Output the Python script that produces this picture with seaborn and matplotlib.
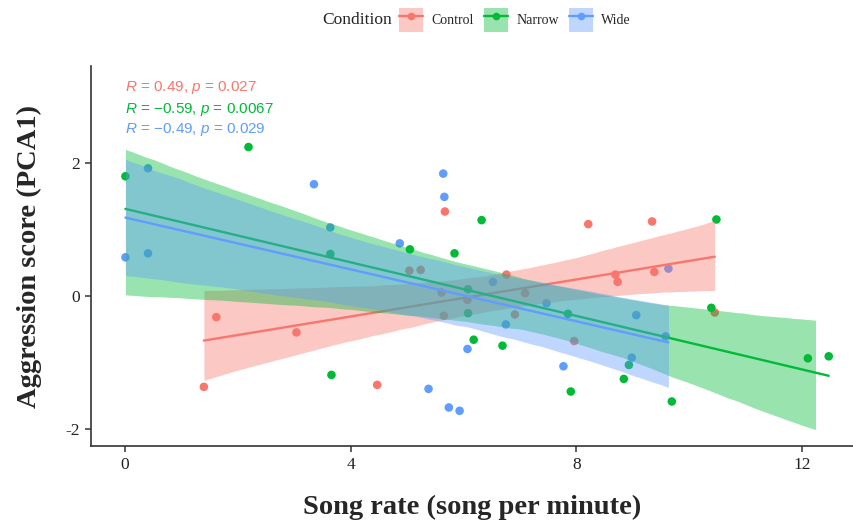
import numpy as np
import pandas as pd
import matplotlib
matplotlib.use("Agg")
import matplotlib.pyplot as plt
import seaborn as sns
from matplotlib.patches import Patch, Rectangle
from matplotlib.lines import Line2D

# ---------------- data ----------------
conditions = ["Control", "Narrow", "Wide"]
palette = ["#F8766D", "#00BA38", "#619CFF"]

control_x = [1.40, 1.62, 3.04, 4.47, 5.67, 5.04, 5.24, 6.76, 5.61, 6.07,
             7.09, 5.65, 6.91, 7.96, 8.21, 9.34, 8.69, 8.73, 9.38, 10.45]
control_y = [-1.37, -0.32, -0.55, -1.34, 1.27, 0.38, 0.39, 0.32, 0.05, -0.06,
             0.04, -0.30, -0.28, -0.68, 1.08, 1.12, 0.32, 0.21, 0.36, -0.25]

narrow_x = [0.01, 2.19, 3.64, 3.66, 5.05, 5.84, 6.32, 6.08, 6.08, 6.18,
            6.69, 7.85, 7.90, 8.93, 8.84, 9.69, 10.48, 10.39, 12.10, 12.47]
narrow_y = [1.80, 2.24, 0.63, -1.19, 0.70, 0.64, 1.14, 0.10, -0.26, -0.66,
            -0.75, -0.27, -1.44, -1.04, -1.25, -1.59, 1.15, -0.18, -0.94, -0.91]

wide_x = [0.01, 0.41, 0.41, 3.35, 3.64, 4.87, 5.64, 5.66, 6.52, 7.47,
          6.75, 6.07, 5.38, 5.74, 5.93, 7.77, 9.06, 8.98, 9.63, 9.58]
wide_y = [0.58, 1.92, 0.64, 1.68, 1.03, 0.79, 1.84, 1.49, 0.21, -0.11,
          -0.43, -0.80, -1.40, -1.68, -1.73, -1.06, -0.29, -0.93, 0.41, -0.61]

cor_labels = [r"$R$ = 0.49, $p$ = 0.027",
              r"$R$ = $-$0.59, $p$ = 0.0067",
              r"$R$ = $-$0.49, $p$ = 0.029"]

x_ticks = [0, 4, 8, 12]
y_ticks = [-2, 0, 2]
y_tick_labels = ["-2", "0", "2"]
y_scale_min = -2  # lower limit of the y scale: ribbons below it are dropped

x_label = "Song rate (song per minute)"
y_label = "Aggression score (PCA1)"
legend_title = "Condition"

df = pd.DataFrame({
    "rate": control_x + narrow_x + wide_x,
    "score": control_y + narrow_y + wide_y,
    "Condition": ["Control"] * len(control_x) + ["Narrow"] * len(narrow_x) + ["Wide"] * len(wide_x),
})

# ---------------- style ----------------
sns.set_theme(style="white")
plt.rcParams["font.family"] = ["Liberation Serif", "DejaVu Serif"]
plt.rcParams["mathtext.fontset"] = "custom"
plt.rcParams["mathtext.rm"] = "Liberation Sans"
plt.rcParams["mathtext.it"] = "Liberation Sans:italic"
plt.rcParams["mathtext.default"] = "it"

fig = plt.figure(figsize=(8.54, 5.27), dpi=100)
fig.patch.set_facecolor("white")
ax = fig.add_axes([91 / 854, 81 / 527, 762 / 854, 380 / 527])

sns.scatterplot(data=df, x="rate", y="score", hue="Condition",
                hue_order=conditions, palette=palette, s=38, linewidth=0,
                ax=ax, legend=False, zorder=2)

ribbons = []
for i, (cond, col) in enumerate(zip(conditions, palette)):
    sub = df[df["Condition"] == cond]
    nc, nl = len(ax.collections), len(ax.lines)
    sns.regplot(data=sub, x="rate", y="score", scatter=False, color=col,
                ax=ax, truncate=True, n_boot=2000, seed=3,
                line_kws=dict(lw=1.7))
    for c in ax.collections[nc:]:
        c.set_alpha(0.4)
        c.set_linewidth(0)
        c.set_zorder(3 + 2 * i)
        ribbons.append(c)
    for l in ax.lines[nl:]:
        l.set_zorder(4 + 2 * i)

ax.set_xlim(-0.6, 12.9)
ax.set_ylim(-2.26, 3.46)

# drop ribbon parts where the band leaves the y scale (as ggplot does)
x0 = ax.get_xlim()[0]
for c in ribbons:
    verts = c.get_paths()[0].vertices
    bad = verts[verts[:, 1] < y_scale_min, 0]
    if len(bad):
        xcut = bad.min()
        rect = Rectangle((x0 - 1, -100), xcut - x0 + 1, 200,
                         transform=ax.transData)
        c.set_clip_path(rect)

ax.set_xticks(x_ticks)
ax.set_xticklabels([str(t) for t in x_ticks])
ax.set_yticks(y_ticks)
ax.set_yticklabels(y_tick_labels)
ax.tick_params(axis="both", which="major", direction="out", length=4, width=1.1,
               color="#333333", labelsize=12.5, labelcolor="#222222", pad=4,
               left=True, bottom=True)
for s in ["top", "right"]:
    ax.spines[s].set_visible(False)
for s in ["left", "bottom"]:
    ax.spines[s].set_color("#333333")
    ax.spines[s].set_linewidth(1.2)

ax.set_xlabel(x_label, fontsize=20.5, fontweight="bold", labelpad=16)
ax.set_ylabel(y_label, fontsize=20.5, fontweight="bold", labelpad=17)

label_y = [3.13, 2.81, 2.51]
for lab, col, yy in zip(cor_labels, palette, label_y):
    ax.text(0, yy, lab, color=col, fontsize=11, ha="left", va="center",
            family="Liberation Sans", zorder=10)

# legend on top
handles = []
for col in palette:
    handles.append((Patch(facecolor=col, alpha=0.4, linewidth=0),
                    Line2D([], [], color=col, lw=1.7, marker="o",
                           markersize=5.5, markeredgewidth=0)))
fig.text(322 / 854, 1 - 20 / 527, legend_title, fontsize=12.5,
         ha="left", va="center", color="#222222")
fig.legend(handles, conditions, loc="center left",
           bbox_to_anchor=(399 / 854, 1 - 20 / 527), ncol=3, frameon=False,
           borderpad=0, borderaxespad=0, fontsize=10, handlelength=1.75,
           handleheight=2.2, handletextpad=0.6, columnspacing=0.7)

fig.savefig("out.png", dpi=100, facecolor="white")
